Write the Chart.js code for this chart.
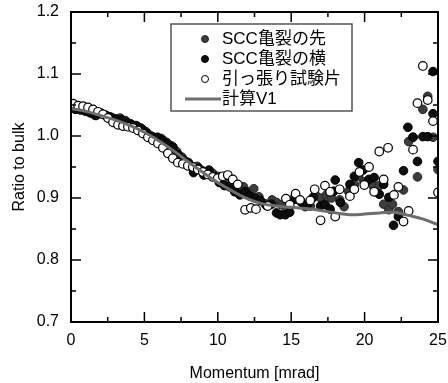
<!DOCTYPE html>
<html>
<head>
<meta charset="utf-8">
<style>
  html, body { margin: 0; padding: 0; background: #fff; }
  #wrap { width: 448px; height: 383px; }
</style>
</head>
<body>
<div id="wrap"><canvas id="myChart" width="448" height="383"></canvas></div>

<script src="https://cdn.jsdelivr.net/npm/chart.js/dist/chart.umd.min.js"></script>
<script>
// legend labels
const seriesNames = ['SCC亀裂の先', 'SCC亀裂の横', '引っ張り試験片', '計算V1'];

// SCC亀裂の先 (dark grey dots) [momentum, ratio]
const tipPts = [
  [0.2,1.045],[0.55,1.044],[0.9,1.041],[1.25,1.038],[1.6,1.034],[1.95,1.036],[2.3,1.034],[2.65,1.031],
  [3.0,1.028],[3.35,1.029],[3.7,1.025],[4.05,1.020],[4.4,1.017],[4.75,1.013],[5.1,1.007],[5.45,1.000],
  [5.8,0.997],[6.15,0.996],[6.5,0.990],[6.85,0.984],[7.2,0.975],[7.55,0.966],[7.9,0.958],[8.25,0.949],
  [8.6,0.951],[8.95,0.944],[9.3,0.942],[9.65,0.940],[10.0,0.935],[10.35,0.929],[10.7,0.926],[11.05,0.920],
  [11.4,0.916],[11.75,0.918],[12.1,0.910],[12.45,0.915],[12.8,0.902],[13.2,0.891],[13.7,0.897],[14.0,0.893],
  [14.35,0.889],[14.7,0.880],[15.2,0.900],[15.6,0.897],[15.95,0.886],[16.3,0.887],[16.65,0.905],[17.0,0.900],
  [17.4,0.905],[17.75,0.900],[18.3,0.897],[18.6,0.886],[18.9,0.911],[19.3,0.922],[19.6,0.935],[19.95,0.926],
  [20.3,0.926],[20.6,0.919],[21.0,0.920],[21.3,0.890],[21.65,0.881],[21.9,0.890],[22.3,0.878],[22.65,0.913],
  [23.0,0.991],[23.3,0.998],[23.6,0.934],[23.97,1.043],[24.3,1.064],[24.66,0.998],[25.0,0.946]
];

// SCC亀裂の横 (black dots)
const sidePts = [
  [0.3,1.043],[0.65,1.042],[1.0,1.040],[1.35,1.037],[1.7,1.033],[2.05,1.037],[2.4,1.033],[2.75,1.030],
  [3.1,1.027],[3.45,1.026],[3.8,1.022],[4.15,1.018],[4.5,1.016],[4.85,1.011],[5.2,1.004],[5.55,0.999],
  [5.9,0.998],[6.25,0.993],[6.6,0.987],[6.95,0.982],[7.3,0.970],[7.65,0.962],[8.0,0.957],[8.35,0.941],
  [8.7,0.948],[9.05,0.937],[9.4,0.945],[9.75,0.935],[10.1,0.925],[10.45,0.920],[10.8,0.918],[11.15,0.910],
  [11.5,0.905],[11.86,0.910],[12.2,0.903],[12.55,0.900],[12.9,0.896],[13.3,0.888],[13.65,0.890],[14.0,0.876],
  [14.25,0.873],[14.6,0.873],[14.9,0.877],[15.3,0.898],[15.7,0.893],[16.1,0.890],[16.5,0.901],[17.0,0.887],
  [17.3,0.890],[17.65,0.882],[17.9,0.911],[18.0,0.929],[18.35,0.893],[19.0,0.922],[19.3,0.935],[19.6,0.957],
  [19.9,0.945],[20.3,0.930],[20.65,0.933],[21.0,0.906],[21.3,0.922],[21.65,0.901],[21.97,0.856],[22.3,0.870],
  [22.65,0.944],[22.95,1.014],[23.3,0.998],[23.6,0.959],[23.97,0.999],[24.3,0.999],[24.66,1.104],[24.66,1.036],
  [25.0,0.959]
];

// 引っ張り試験片 (open circles)
const tensilePts = [
  [0.14,1.052],[0.48,1.049],[0.82,1.048],[1.16,1.046],[1.5,1.043],[1.84,1.039],[2.18,1.035],[2.52,1.029],
  [2.86,1.022],[3.2,1.018],[3.54,1.016],[3.88,1.015],[4.22,1.013],[4.56,1.009],[4.9,1.004],[5.24,0.998],
  [5.58,0.993],[5.92,0.988],[6.26,0.981],[6.6,0.972],[6.94,0.964],[7.28,0.957],[7.62,0.955],[7.96,0.952],
  [8.3,0.950],[8.64,0.946],[8.98,0.942],[9.32,0.938],[9.66,0.934],[10.0,0.932],[10.34,0.935],[10.68,0.937],
  [11.02,0.930],[11.36,0.922],[11.86,0.881],[12.25,0.884],[12.6,0.882],[13.4,0.887],[14.64,0.899],[14.9,0.889],
  [15.3,0.907],[15.6,0.897],[16.3,0.896],[16.6,0.914],[17.0,0.864],[17.3,0.920],[17.65,0.910],[18.0,0.870],
  [18.3,0.914],[19.0,0.903],[19.3,0.914],[19.65,0.942],[19.98,0.921],[20.3,0.950],[20.65,0.910],[21.0,0.975],
  [21.3,0.930],[21.6,0.981],[22.0,0.905],[22.3,0.918],[22.65,0.862],[23.0,0.879],[23.3,0.978],[23.6,1.053],
  [23.97,1.113],[24.3,1.058],[24.66,1.024],[25.0,0.909]
];

// 計算V1 (calculated curve)
const calcX = [0,1,2,3,4,5,6,7,8,9,10,11,12,13,14,15,16,17,18,19,20,21,22,23,24,25];
const calcY = [1.044,1.040,1.033,1.026,1.017,1.006,0.992,0.976,0.958,0.941,0.925,0.911,0.899,0.891,
               0.887,0.885,0.883,0.880,0.876,0.873,0.874,0.876,0.877,0.872,0.866,0.857];

const xTicks = [0, 5, 10, 15, 20, 25];
const yTicks = [0.7, 0.8, 0.9, 1.0, 1.1, 1.2];

const toXY = pts => pts.map(p => ({x: p[0], y: p[1]}));

// frame with inward ticks on all four sides
const frameTicks = {
  id: 'frameTicks',
  afterDraw(chart) {
    const {ctx, chartArea: a, scales: {x, y}} = chart;
    ctx.save();
    ctx.strokeStyle = '#000';
    ctx.lineWidth = 2;
    ctx.strokeRect(a.left, a.top, a.right - a.left, a.bottom - a.top);
    ctx.lineWidth = 1.5;
    ctx.beginPath();
    for (let v = 0; v <= 25; v += 2.5) {
      const px = x.getPixelForValue(v);
      const len = (v % 5 === 0) ? 10 : 5;
      ctx.moveTo(px, a.bottom); ctx.lineTo(px, a.bottom - len);
      ctx.moveTo(px, a.top); ctx.lineTo(px, a.top + len);
    }
    for (let i = 0; i <= 10; i++) {
      const v = 0.7 + i * 0.05;
      const py = y.getPixelForValue(v);
      const len = (i % 2 === 0) ? 10 : 5;
      ctx.moveTo(a.left, py); ctx.lineTo(a.left + len, py);
      ctx.moveTo(a.right, py); ctx.lineTo(a.right - len, py);
    }
    ctx.stroke();
    ctx.restore();
  }
};

// boxed legend inside the plot
const boxLegend = {
  id: 'boxLegend',
  afterDraw(chart) {
    const ctx = chart.ctx;
    const bx = 171, by = 24, bw = 181, bh = 87;
    ctx.save();
    ctx.fillStyle = '#fff';
    ctx.fillRect(bx, by, bw, bh);
    ctx.strokeStyle = '#555';
    ctx.lineWidth = 1.5;
    ctx.strokeRect(bx, by, bw, bh);
    ctx.font = '17px "Liberation Sans", "Noto Sans CJK JP", sans-serif';
    ctx.textBaseline = 'middle';
    ctx.fillStyle = '#000';
    const order = [3, 2, 1, 0]; // dataset index per legend row
    order.forEach((di, row) => {
      const ds = chart.data.datasets[di];
      const cy = by + 15 + row * 20;
      if (ds.type === 'line') {
        ctx.strokeStyle = ds.borderColor;
        ctx.lineWidth = ds.borderWidth;
        ctx.beginPath(); ctx.moveTo(185, cy); ctx.lineTo(221, cy); ctx.stroke();
      } else {
        ctx.beginPath();
        ctx.arc(205, cy, 3.5, 0, Math.PI * 2);
        ctx.fillStyle = ds.backgroundColor;
        ctx.fill();
        ctx.strokeStyle = ds.borderColor;
        ctx.lineWidth = 1;
        ctx.stroke();
      }
      ctx.fillStyle = '#000';
      ctx.fillText(ds.label, 222, cy);
    });
    ctx.restore();
  }
};

const config = {
  type: 'scatter',
  data: {
    datasets: [
      {
        type: 'line',
        label: seriesNames[3],
        data: calcX.map((v, i) => ({x: v, y: calcY[i]})),
        borderColor: '#6e6e6e',
        borderWidth: 3,
        pointRadius: 0,
        tension: 0.4,
        fill: false
      },
      {
        label: seriesNames[2],
        data: toXY(tensilePts),
        backgroundColor: '#ffffff',
        borderColor: '#000000',
        borderWidth: 1.2,
        pointRadius: 4.3
      },
      {
        label: seriesNames[1],
        data: toXY(sidePts),
        backgroundColor: '#0e0e0e',
        borderColor: '#000000',
        borderWidth: 1,
        pointRadius: 4.3
      },
      {
        label: seriesNames[0],
        data: toXY(tipPts),
        backgroundColor: '#3d3d3d',
        borderColor: '#262626',
        borderWidth: 1,
        pointRadius: 4.3
      }
    ]
  },
  options: {
    responsive: false,
    animation: false,
    layout: { padding: { left: 10, right: 10, top: 12, bottom: 0 } },
    plugins: {
      legend: { display: false },
      tooltip: { enabled: false }
    },
    scales: {
      x: {
        type: 'linear',
        min: 0,
        max: 25,
        afterBuildTicks: s => { s.ticks = xTicks.map(v => ({value: v})); },
        afterFit: s => { s.height = 61; s.paddingLeft = 0; s.paddingRight = 0; },
        grid: { display: false, drawTicks: false },
        border: { display: false },
        ticks: {
          padding: 9,
          color: '#000',
          font: { family: '"Liberation Sans", Arial, sans-serif', size: 16 },
          maxRotation: 0
        },
        title: {
          display: true,
          text: 'Momentum [mrad]',
          color: '#000',
          font: { family: '"Liberation Sans", Arial, sans-serif', size: 16 },
          padding: { top: 0, bottom: 0 }
        }
      },
      y: {
        type: 'linear',
        min: 0.7,
        max: 1.2,
        afterBuildTicks: s => { s.ticks = yTicks.map(v => ({value: v})); },
        afterFit: s => { s.width = 61; s.paddingTop = 0; s.paddingBottom = 0; },
        grid: { display: false, drawTicks: false },
        border: { display: false },
        ticks: {
          padding: 12,
          color: '#000',
          font: { family: '"Liberation Sans", Arial, sans-serif', size: 16 },
          callback: v => v.toFixed(1)
        },
        title: {
          display: true,
          text: 'Ratio to bulk',
          color: '#000',
          font: { family: '"Liberation Sans", Arial, sans-serif', size: 16 },
          padding: { top: 0, bottom: 0 }
        }
      }
    }
  },
  plugins: [frameTicks, boxLegend]
};

const myChart = new Chart(document.getElementById('myChart'), config);
</script>
</body>
</html>
